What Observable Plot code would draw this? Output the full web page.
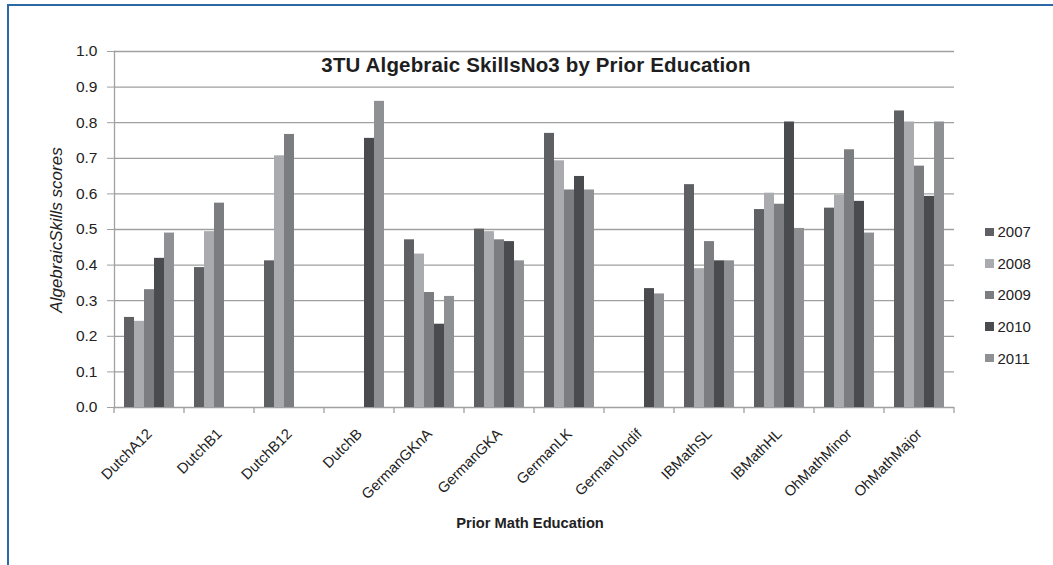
<!DOCTYPE html>
<html>
<head>
<meta charset="utf-8">
<script src="https://cdn.jsdelivr.net/npm/d3@7"></script>
<script src="https://cdn.jsdelivr.net/npm/@observablehq/plot@0.6"></script>
<style>
  html, body { margin: 0; padding: 0; background: #fff; }
  body { font-family: "Liberation Sans", Arial, Helvetica, sans-serif; color: #222; }
  #wrap { position: relative; width: 1053px; height: 565px; overflow: hidden; }
  #frame { position: absolute; left: 7px; top: 4px; width: 1100px; height: 600px;
           border-top: 2px solid #2c68a6; border-left: 2px solid #2c68a6; box-sizing: border-box; }
  #title { position: absolute; left: 186px; width: 700px; top: 55px; text-align: center;
           font-size: 20.5px; line-height: 20px; font-weight: bold; color: #1e1e1e; letter-spacing: 0.15px; }
  #xtitle { position: absolute; left: 330px; width: 400px; top: 516px; text-align: center;
            font-size: 14.7px; line-height: 15px; font-weight: bold; color: #222; }
  #ytitle { position: absolute; left: -93px; width: 300px; top: 219px; height: 22px; line-height: 22px;
            text-align: center; font-size: 17px; font-style: italic; color: #222; transform: rotate(-90deg); }
  #legend { position: absolute; left: 985px; top: 216px; }
  .lrow { height: 31.6px; display: flex; align-items: center; font-size: 15px; color: #222; }
  .sw { width: 8.5px; height: 8.5px; margin-right: 4px; }
  svg { position: absolute; left: 0; top: 0; }
</style>
</head>
<body>
<div id="wrap">
  <div id="frame"></div>
  <div id="chart"></div>
  <div id="title"></div>
  <div id="xtitle"></div>
  <div id="ytitle"></div>
  <div id="legend"></div>
</div>
<script>
const titleText = "3TU Algebraic SkillsNo3 by Prior Education";
const xTitle = "Prior Math Education";
const yTitle = "AlgebraicSkills scores";

const categories = ["DutchA12", "DutchB1", "DutchB12", "DutchB", "GermanGKnA", "GermanGKA",
  "GermanLK", "GermanUndif", "IBMathSL", "IBMathHL", "OhMathMinor", "OhMathMajor"];
const years = ["2007", "2008", "2009", "2010", "2011"];

const v2007 = [0.253, 0.393, 0.412, null, 0.471, 0.501, 0.770, null, 0.626, 0.556, 0.560, 0.833];
const v2008 = [0.242, 0.494, 0.707, null, 0.431, 0.494, 0.693, null, 0.390, 0.602, 0.597, 0.802];
const v2009 = [0.331, 0.574, 0.767, null, 0.323, 0.471, 0.611, null, 0.466, 0.571, 0.724, 0.678];
const v2010 = [0.419, null, null, 0.756, 0.234, 0.466, 0.649, 0.334, 0.412, 0.802, 0.579, 0.593];
const v2011 = [0.490, null, null, 0.860, 0.312, 0.412, 0.611, 0.319, 0.412, 0.503, 0.490, 0.802];

const yTicks = [0, 0.1, 0.2, 0.3, 0.4, 0.5, 0.6, 0.7, 0.8, 0.9, 1.0];
const colors = ["#5f6064", "#a9abae", "#7c7d81", "#4a4b4f", "#8f9094"];

const series = [v2007, v2008, v2009, v2010, v2011];
const data = [];
categories.forEach((c, i) => years.forEach((yr, j) => {
  const v = series[j][i];
  if (v != null) data.push({cat: c, year: yr, value: v});
}));

const gridColor = "#a0a0a0";

const plot = Plot.plot({
  width: 1053,
  height: 565,
  marginLeft: 110,
  marginRight: 96,
  marginTop: 51,
  marginBottom: 158,
  style: {fontFamily: '"Liberation Sans", Arial, Helvetica, sans-serif', background: "transparent", color: "#222"},
  fx: {domain: categories, padding: 0, label: null},
  x: {domain: years, paddingInner: 0, paddingOuter: 0.69, axis: null},
  y: {domain: [0, 1], label: null},
  color: {domain: years, range: colors},
  marks: [
    Plot.gridY(yTicks, {stroke: gridColor, strokeOpacity: 1, strokeWidth: 1.3}),
    Plot.frame({anchor: "left", facetAnchor: "left", stroke: gridColor, strokeWidth: 1.3}),
    Plot.barY(data, {fx: "cat", x: "year", y: "value", fill: "year"}),
    Plot.axisY(yTicks, {tickFormat: d3.format(".1f"), tickSize: 7, tickPadding: 10, fontSize: 15.5,
      stroke: gridColor, label: null}),
    Plot.axisFx({anchor: "bottom", tickRotate: -45, tickSize: 0, tickPadding: 24, fontSize: 14.7, label: null})
  ]
});

document.getElementById("chart").appendChild(plot);

// category boundary tick marks below the baseline (Excel style), from Plot's own scales
const fxS = plot.scale("fx");
const yS = plot.scale("y");
const y0 = yS.apply(0);
const edges = categories.map(c => fxS.apply(c));
edges.push(fxS.apply(categories[categories.length - 1]) + fxS.bandwidth);
d3.select(plot).append("g")
  .attr("stroke", gridColor)
  .attr("stroke-width", 1.3)
  .selectAll("line").data(edges).join("line")
  .attr("x1", d => d).attr("x2", d => d)
  .attr("y1", y0).attr("y2", y0 + 6);

document.getElementById("title").textContent = titleText;
document.getElementById("xtitle").textContent = xTitle;
document.getElementById("ytitle").textContent = yTitle;

const legend = d3.select("#legend");
years.forEach((yr, j) => {
  const row = legend.append("div").attr("class", "lrow");
  row.append("div").attr("class", "sw").style("background", colors[j]);
  row.append("span").text(yr);
});
</script>
</body>
</html>
